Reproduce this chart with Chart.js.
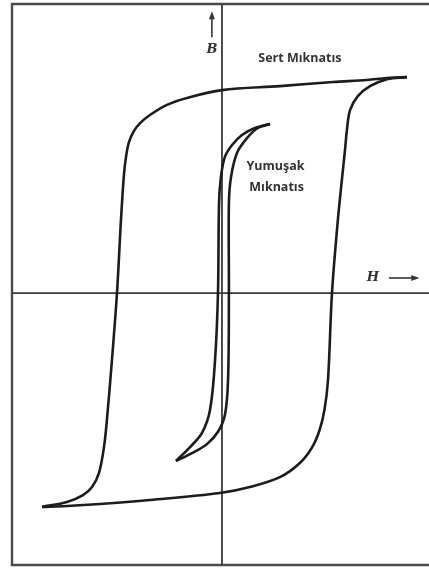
<!DOCTYPE html>
<html>
<head>
<meta charset="utf-8">
<script src="https://cdn.jsdelivr.net/npm/chart.js@4.4.0/dist/chart.umd.min.js"></script>
<style>
  body { margin: 0; background: #fff; }
  canvas { display: block; }
</style>
</head>
<body>
<canvas id="myChart" width="429" height="571"></canvas>
<script>
// Hard magnet loop (H, B) - descending branch then ascending branch
const hardDownH = [8.81, 7.86, 6.90, 5.29, 2.76, 0, -1.67, -2.62, -3.43, -3.90, -4.19, -4.43, -4.57, -4.67, -4.81, -5.00, -5.24, -5.48, -5.62, -5.86, -6.19, -6.62, -7.38, -8.57];
const hardDownB = [7.47, 7.44, 7.37, 7.30, 7.16, 7.02, 6.75, 6.51, 6.16, 5.88, 5.61, 5.22, 4.71, 4.08, 2.53, 0, -2.32, -4.39, -5.33, -6.23, -6.71, -6.99, -7.23, -7.40];
const hardUpH = [-8.57, -7.38, -5.81, -3.43, -0.10, 1.33, 2.76, 3.71, 4.30, 4.65, 4.88, 5.05, 5.24, 5.52, 5.71, 5.86, 5.95, 6.10, 6.48, 7.05, 7.86, 8.81];
const hardUpB = [-7.40, -7.37, -7.30, -7.16, -6.92, -6.71, -6.37, -5.88, -5.33, -4.74, -4.05, -3.01, 0, 2.53, 3.91, 4.95, 5.64, 6.33, 6.82, 7.16, 7.40, 7.47];

// Soft magnet loop
const softDownH = [2.29, 1.57, 0.95, 0.48, 0.14, -0.05, -0.14, -0.19, -0.33, -0.57, -0.95, -1.52, -2.19];
const softDownB = [5.85, 5.71, 5.47, 5.12, 4.71, 4.01, 3.11, 0, -2.32, -4.05, -4.84, -5.33, -5.81];
const softUpH = [-2.19, -1.43, -0.71, -0.19, 0.14, 0.29, 0.33, 0.33, 0.43, 0.71, 1.19, 1.71, 2.29];
const softUpB = [-5.81, -5.54, -5.22, -4.80, -4.22, -3.01, 0, 3.11, 4.01, 4.84, 5.36, 5.71, 5.85];

// labels: text, H, B
const labelText = ['Sert Mıknatıs', 'Yumuşak', 'Mıknatıs'];
const labelH = [3.71, 2.55, 2.60];
const labelB = [8.10, 4.39, 3.67];

function toPoints(hs, bs) {
    return hs.map((h, i) => ({x: h, y: bs[i]}));
}

function curve(hs, bs) {
    return {
        data: toPoints(hs, bs),
        showLine: true,
        borderColor: '#1c1c1c',
        borderWidth: 2.6,
        pointRadius: 0,
        tension: 0.35,
        fill: false
    };
}

const frameAndAxes = {
    id: 'frameAndAxes',
    beforeDatasetsDraw(chart) {
        const ctx = chart.ctx;
        const a = chart.chartArea;
        const xs = chart.scales.x, ys = chart.scales.y;
        const x0 = xs.getPixelForValue(0), y0 = ys.getPixelForValue(0);
        ctx.save();
        // outer frame (left, top, bottom)
        ctx.strokeStyle = '#4a4a4a';
        ctx.lineWidth = 2.4;
        ctx.beginPath();
        ctx.moveTo(a.right, a.top);
        ctx.lineTo(a.left, a.top);
        ctx.lineTo(a.left, a.bottom);
        ctx.lineTo(a.right, a.bottom);
        ctx.stroke();
        // H and B axes
        ctx.strokeStyle = '#3a3a3a';
        ctx.lineWidth = 1.8;
        ctx.beginPath();
        ctx.moveTo(x0, a.top);
        ctx.lineTo(x0, a.bottom);
        ctx.moveTo(a.left, y0);
        ctx.lineTo(a.right, y0);
        ctx.stroke();
        ctx.restore();
    },
    afterDraw(chart) {
        const ctx = chart.ctx;
        const xs = chart.scales.x, ys = chart.scales.y;
        ctx.save();
        ctx.fillStyle = '#333';
        ctx.strokeStyle = '#333';
        ctx.textAlign = 'center';
        ctx.textBaseline = 'middle';
        ctx.font = 'bold 12.5px "Open Sans", sans-serif';
        labelText.forEach((t, i) => {
            ctx.fillText(t, xs.getPixelForValue(labelH[i]), ys.getPixelForValue(labelB[i]));
        });

        // B with upward arrow
        const bx = xs.getPixelForValue(-0.48);
        ctx.font = 'italic bold 13px "DejaVu Serif", serif';
        ctx.fillText('B', bx, ys.getPixelForValue(8.41));
        ctx.lineWidth = 1.6;
        ctx.beginPath();
        ctx.moveTo(bx, ys.getPixelForValue(8.85));
        ctx.lineTo(bx, ys.getPixelForValue(9.65));
        ctx.stroke();
        const tipY = ys.getPixelForValue(9.75);
        ctx.beginPath();
        ctx.moveTo(bx, tipY);
        ctx.lineTo(bx - 3, tipY + 8);
        ctx.lineTo(bx + 3, tipY + 8);
        ctx.closePath();
        ctx.fill();

        // H with right arrow
        const hy = ys.getPixelForValue(0.52);
        ctx.font = 'italic bold 13px "DejaVu Serif", serif';
        ctx.fillText('H', xs.getPixelForValue(7.19), hy);
        const ax0 = xs.getPixelForValue(7.95), ax1 = xs.getPixelForValue(9.4);
        ctx.beginPath();
        ctx.moveTo(ax0, hy);
        ctx.lineTo(ax1 - 4, hy);
        ctx.stroke();
        ctx.beginPath();
        ctx.moveTo(ax1, hy);
        ctx.lineTo(ax1 - 8, hy - 3);
        ctx.lineTo(ax1 - 8, hy + 3);
        ctx.closePath();
        ctx.fill();
        ctx.restore();
    }
};

new Chart(document.getElementById('myChart'), {
    type: 'scatter',
    data: {
        datasets: [
            curve(hardDownH, hardDownB),
            curve(hardUpH, hardUpB),
            curve(softDownH, softDownB),
            curve(softUpH, softUpB)
        ]
    },
    options: {
        responsive: false,
        animation: false,
        layout: { padding: { left: 12, top: 4, right: 0, bottom: 6 } },
        scales: {
            x: { type: 'linear', min: -10, max: 9.86, display: false },
            y: { type: 'linear', min: -9.41, max: 10, display: false }
        },
        plugins: {
            legend: { display: false },
            tooltip: { enabled: false }
        }
    },
    plugins: [frameAndAxes]
});
</script>
</body>
</html>
